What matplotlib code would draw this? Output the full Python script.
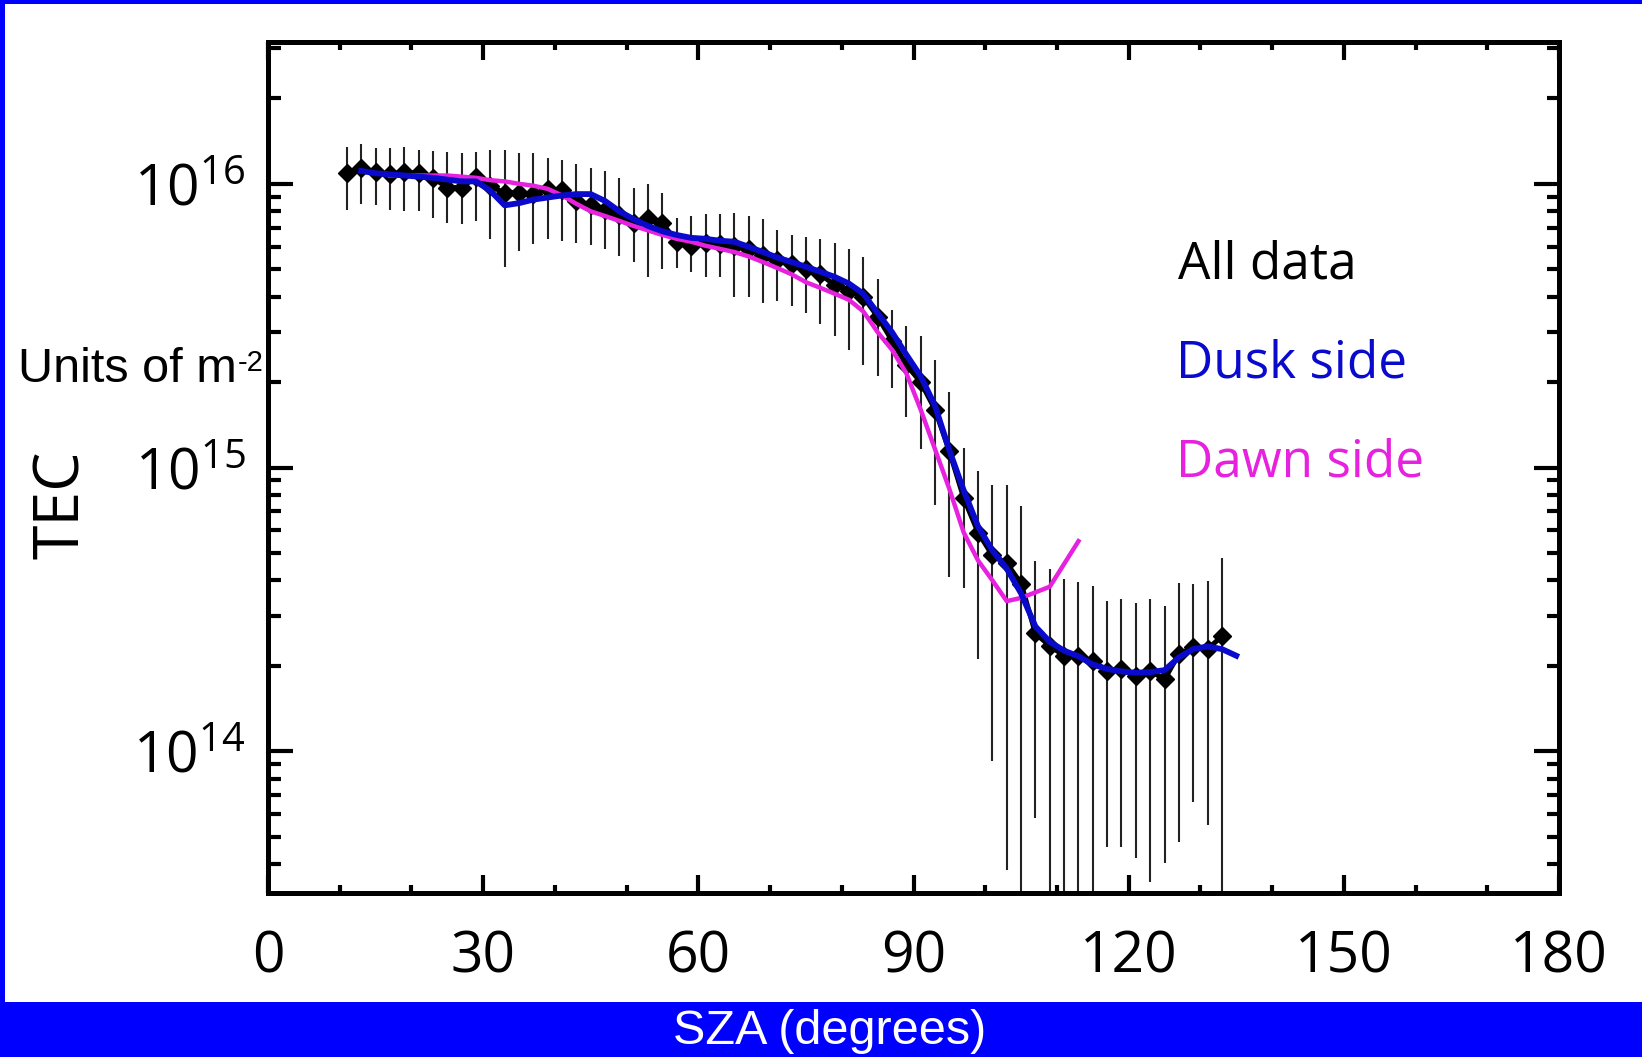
import matplotlib
matplotlib.use('Agg')
import matplotlib.pyplot as plt
from matplotlib.ticker import FixedLocator, MultipleLocator, LogLocator, NullFormatter
from matplotlib.patches import Rectangle

plt.rcParams['mathtext.fontset'] = 'custom'
plt.rcParams['mathtext.rm'] = 'Open Sans'
plt.rcParams['mathtext.it'] = 'Open Sans:italic'
plt.rcParams['mathtext.bf'] = 'Open Sans:bold'
plt.rcParams['font.family'] = ['Open Sans', 'DejaVu Sans']

# ---------------- data ----------------
sza = [11, 13, 15, 17, 19, 21, 23, 25, 27, 29, 31, 33, 35, 37, 39, 41, 43, 45, 47, 49,
       51, 53, 55, 57, 59, 61, 63, 65, 67, 69, 71, 73, 75, 77, 79, 81, 83, 85, 87, 89,
       91, 93, 95, 97, 99, 101, 103, 105, 107, 109, 111, 113, 115, 117, 119, 121, 123,
       125, 127, 129, 131, 133]
tec_all = [1.09e16, 1.14e16, 1.10e16, 1.08e16, 1.10e16, 1.09e16, 1.05e16, 0.97e16, 0.97e16, 1.06e16,
           0.98e16, 0.93e16, 0.93e16, 0.92e16, 0.96e16, 0.95e16, 0.87e16, 0.84e16, 0.81e16, 0.775e16,
           0.725e16, 0.755e16, 0.725e16, 0.625e16, 0.605e16, 0.62e16, 0.615e16, 0.605e16, 0.59e16, 0.56e16,
           0.54e16, 0.52e16, 0.50e16, 0.48e16, 0.44e16, 0.42e16, 0.40e16, 0.34e16, 0.28e16, 0.23e16,
           0.20e16, 0.16e16, 1.14e15, 7.8e14, 5.9e14, 4.9e14, 4.6e14, 3.9e14, 2.6e14, 2.35e14,
           2.17e14, 2.17e14, 2.08e14, 1.92e14, 1.95e14, 1.84e14, 1.92e14, 1.79e14, 2.2e14, 2.32e14,
           2.29e14, 2.54e14]
tec_all_upper = [1.35e16, 1.38e16, 1.34e16, 1.34e16, 1.35e16, 1.32e16, 1.31e16, 1.29e16, 1.28e16, 1.29e16,
                 1.32e16, 1.32e16, 1.28e16, 1.28e16, 1.23e16, 1.21e16, 1.17e16, 1.14e16, 1.11e16, 1.05e16,
                 0.97e16, 1.00e16, 0.93e16, 0.76e16, 0.77e16, 0.78e16, 0.78e16, 0.79e16, 0.77e16, 0.75e16,
                 0.69e16, 0.66e16, 0.65e16, 0.64e16, 0.62e16, 0.59e16, 0.55e16, 0.46e16, 0.36e16, 0.315e16,
                 0.29e16, 0.24e16, 1.84e15, 1.17e15, 9.7e14, 8.7e14, 8.7e14, 7.3e14, 4.7e14, 4.4e14,
                 4.04e14, 3.95e14, 3.82e14, 3.38e14, 3.43e14, 3.32e14, 3.45e14, 3.25e14, 3.93e14, 3.87e14,
                 3.98e14, 4.81e14]
tec_all_lower = [0.81e16, 0.85e16, 0.84e16, 0.81e16, 0.805e16, 0.805e16, 0.76e16, 0.73e16, 0.72e16, 0.74e16,
                 0.64e16, 0.51e16, 0.58e16, 0.615e16, 0.64e16, 0.63e16, 0.62e16, 0.61e16, 0.59e16, 0.555e16,
                 0.53e16, 0.47e16, 0.50e16, 0.505e16, 0.49e16, 0.47e16, 0.47e16, 0.40e16, 0.40e16, 0.38e16,
                 0.385e16, 0.37e16, 0.35e16, 0.32e16, 0.29e16, 0.26e16, 0.23e16, 0.21e16, 0.19e16, 1.51e15,
                 1.16e15, 7.4e14, 4.1e14, 3.77e14, 2.11e14, 9.2e13, 3.8e13, 1.0e13, 5.8e13, 1.0e13,
                 1.0e13, 1.0e13, 1.0e13, 4.6e13, 4.6e13, 4.2e13, 3.45e13, 4.05e13, 4.8e13, 6.6e13,
                 5.5e13, 1.0e13]

sza_dusk = [13, 15, 17, 19, 21, 23, 25, 27, 29, 31, 33, 35, 37, 39, 41, 43, 45, 47, 49, 51,
            53, 55, 57, 59, 61, 63, 65, 67, 69, 71, 73, 75, 77, 79, 81, 83, 85, 87, 89, 91,
            93, 95, 97, 99, 101, 103, 105, 107, 109, 111, 113, 115, 117, 119, 121, 123, 125,
            127, 129, 131, 133, 135]
tec_dusk = [1.11e16, 1.09e16, 1.08e16, 1.07e16, 1.06e16, 1.05e16, 1.035e16, 1.02e16, 1.02e16, 0.945e16,
            0.84e16, 0.855e16, 0.88e16, 0.895e16, 0.91e16, 0.92e16, 0.92e16, 0.87e16, 0.80e16, 0.75e16,
            0.71e16, 0.68e16, 0.66e16, 0.645e16, 0.64e16, 0.63e16, 0.625e16, 0.60e16, 0.575e16, 0.55e16,
            0.53e16, 0.51e16, 0.49e16, 0.47e16, 0.445e16, 0.41e16, 0.35e16, 0.30e16, 0.25e16, 0.21e16,
            0.165e16, 1.15e15, 8.3e14, 6.2e14, 5.1e14, 4.4e14, 3.6e14, 2.75e14, 2.43e14, 2.26e14,
            2.16e14, 2.02e14, 1.95e14, 1.91e14, 1.89e14, 1.90e14, 1.93e14, 2.14e14, 2.29e14, 2.34e14,
            2.29e14, 2.17e14]

sza_dawn = [17, 19, 21, 23, 25, 27, 29, 31, 33, 35, 37, 39, 41, 43, 45, 47, 49, 51, 53, 55,
            57, 59, 61, 63, 65, 67, 69, 71, 73, 75, 77, 79, 81, 83, 85, 87, 89, 91, 93, 95,
            97, 99, 101, 103, 105, 107, 109, 111, 113]
tec_dawn = [1.07e16, 1.07e16, 1.07e16, 1.07e16, 1.07e16, 1.06e16, 1.05e16, 1.03e16, 1.02e16, 1.00e16,
            0.985e16, 0.96e16, 0.91e16, 0.85e16, 0.80e16, 0.77e16, 0.74e16, 0.71e16, 0.685e16, 0.66e16,
            0.64e16, 0.625e16, 0.605e16, 0.59e16, 0.575e16, 0.555e16, 0.53e16, 0.505e16, 0.48e16, 0.45e16,
            0.43e16, 0.41e16, 0.39e16, 0.355e16, 0.30e16, 0.26e16, 0.215e16, 0.16e16, 1.16e15, 8.4e14,
            5.9e14, 4.7e14, 4.0e14, 3.38e14, 3.47e14, 3.63e14, 3.80e14, 4.57e14, 5.5e14]

xtick_values = [0, 30, 60, 90, 120, 150, 180]
xtick_labels = ['0', '30', '60', '90', '120', '150', '180']
ytick_values = [1e14, 1e15, 1e16]
ytick_labels = [r'$\mathregular{10^{14}}$', r'$\mathregular{10^{15}}$', r'$\mathregular{10^{16}}$']
legend_labels = ['All data', 'Dusk side', 'Dawn side']

# ---------------- figure ----------------
W, H = 1642, 1057
fig = plt.figure(figsize=(W / 100, H / 100), dpi=100)
fig.patch.set_facecolor('white')

BLUE = '#0000FF'
fig.patches.append(Rectangle((0, 1 - 4 / H), 1, 4 / H, transform=fig.transFigure,
                             facecolor=BLUE, edgecolor='none', zorder=0))
fig.patches.append(Rectangle((0, 0), 5 / W, 1, transform=fig.transFigure,
                             facecolor=BLUE, edgecolor='none', zorder=0))
fig.patches.append(Rectangle((0, 0), 1, (H - 1002) / H, transform=fig.transFigure,
                             facecolor=BLUE, edgecolor='none', zorder=0))

left, right, top, bottom = 268, 1559, 42, 893
ax = fig.add_axes([left / W, 1 - bottom / H, (right - left) / W, (bottom - top) / H])

err_lo = [c - l for c, l in zip(tec_all, tec_all_lower)]
err_hi = [u - c for c, u in zip(tec_all, tec_all_upper)]
ax.errorbar(sza, tec_all, yerr=[err_lo, err_hi], fmt='none', ecolor='#222222',
            elinewidth=1.5, capsize=0, zorder=2)
ax.plot(sza, tec_all, color='black', lw=3.6, marker='D', ms=9, mfc='black',
        mec='black', zorder=3)
ax.plot(sza_dawn, tec_dawn, color='#E622DE', lw=3.2, zorder=4)
ax.plot(sza_dusk, tec_dusk, color='#0A0ACC', lw=4.2, zorder=5)

ax.set_yscale('log')
ax.set_xlim(0, 180)
ax.set_ylim(10 ** 13.5, 10 ** 16.5)

ax.xaxis.set_major_locator(FixedLocator(xtick_values))
ax.set_xticklabels(xtick_labels)
ax.xaxis.set_minor_locator(MultipleLocator(10))
ax.yaxis.set_major_locator(FixedLocator(ytick_values))
ax.set_yticklabels(ytick_labels)
ax.yaxis.set_minor_locator(LogLocator(base=10, subs=[2, 3, 4, 5, 6, 7, 8, 9]))
ax.yaxis.set_minor_formatter(NullFormatter())

for s in ax.spines.values():
    s.set_linewidth(3.6)
ax.tick_params(axis='both', which='both', direction='in', top=True, right=True,
               color='black')
ax.tick_params(axis='x', which='major', length=13, width=3.0, pad=26, labelsize=41)
ax.tick_params(axis='x', which='minor', length=6, width=3.0)
ax.tick_params(axis='y', which='major', length=18, width=3.0, pad=16, labelsize=41)
ax.tick_params(axis='y', which='minor', length=9, width=3.0)

# in-plot labels
ax.text(1178 / W, 1 - 278 / H, legend_labels[0], transform=fig.transFigure,
        fontsize=37, color='black', ha='left', va='baseline')
ax.text(1176 / W, 1 - 377 / H, legend_labels[1], transform=fig.transFigure,
        fontsize=37, color='#0A0ACC', ha='left', va='baseline')
ax.text(1176 / W, 1 - 476 / H, legend_labels[2], transform=fig.transFigure,
        fontsize=37, color='#E622DE', ha='left', va='baseline')

# axis titles
t1 = fig.text(18 / W, 1 - 382 / H, 'Units of m', fontsize=35,
              family=['Liberation Sans', 'DejaVu Sans'], ha='left', va='baseline')
ax.annotate('-2', xy=(1.0, 0.0), xycoords=t1, xytext=(1, 15), textcoords='offset pixels',
            fontsize=21, family=['Liberation Sans', 'DejaVu Sans'], ha='left', va='bottom',
            annotation_clip=False)
fig.text(63 / W, 1 - 505 / H, 'TEC', fontsize=45, rotation=90, ha='center', va='center')
fig.text(830 / W, 1 - 1031 / H, 'SZA (degrees)', fontsize=35, color='white',
         family=['Liberation Sans', 'DejaVu Sans'], ha='center', va='center')

fig.savefig('out.png', dpi=100, facecolor='white')
